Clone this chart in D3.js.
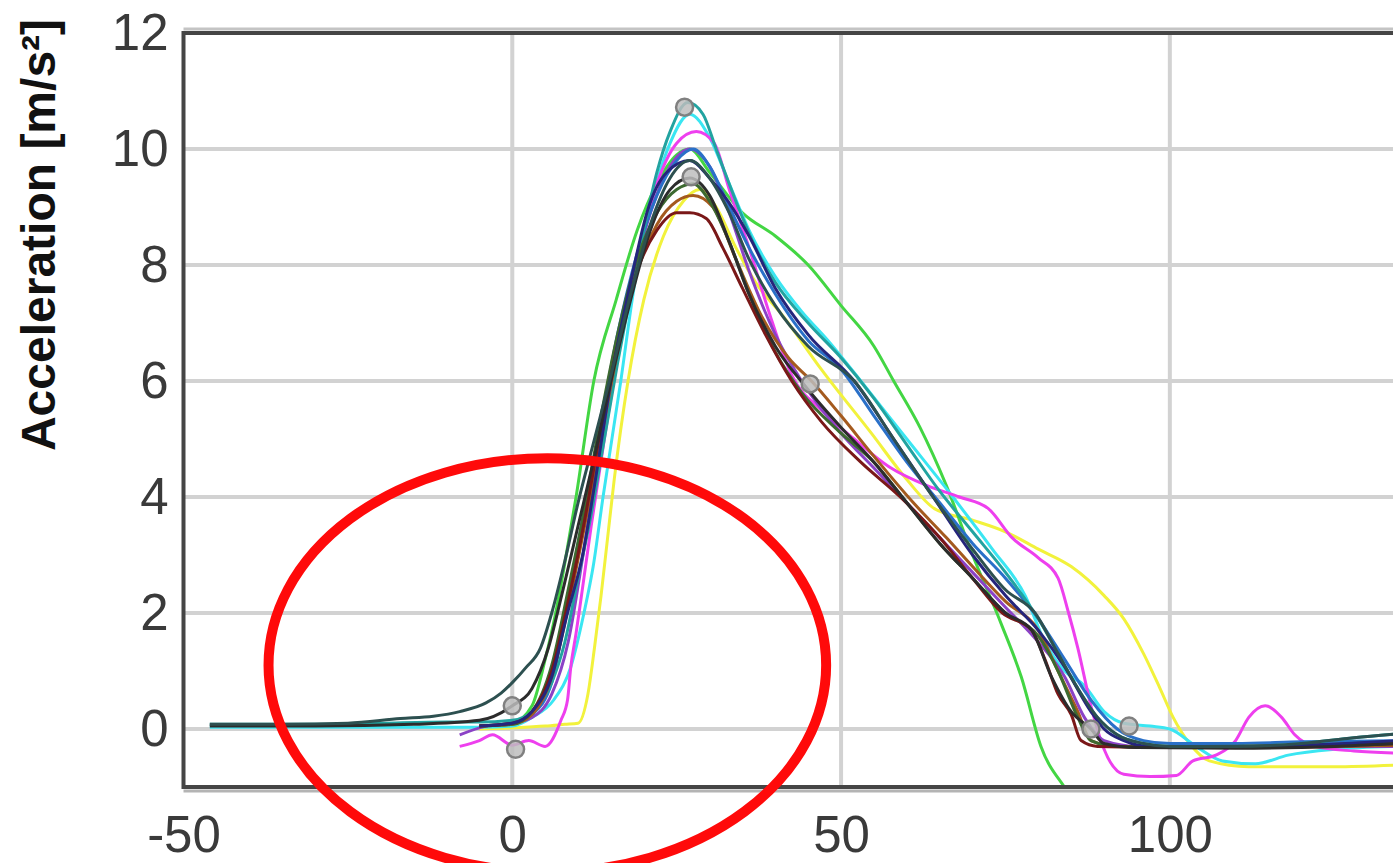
<!DOCTYPE html>
<html>
<head>
<meta charset="utf-8">
<script src="https://cdn.jsdelivr.net/npm/d3@7"></script>
<style>
  html, body { margin: 0; padding: 0; background: #ffffff; overflow: hidden; }
</style>
</head>
<body>
<div id="chart"></div>
<script>
// Tick values.
var xTicks = [-50, 0, 50, 100];
var yTicks = [0, 2, 4, 6, 8, 10, 12];
var yLabel = "Acceleration [m/s\u00B2]";

// One [time, acceleration] list for each trial.
var tealPts = [[-46,0.08],[-30,0.08],[-20,0.1],[-10,0.12],[-5,0.12],[0,0.15],[3,0.3],[6,0.8],[8,1.5],[10,2.6],[12,3.7],[14,5.0],[16,6.3],[18,7.5],[20,8.6],[22,9.6],[24,10.3],[26.7,10.8],[29,10.6],[31,10.0],[34,9.1],[37,8.3],[40,7.7],[45,7.0],[50,6.4],[55,5.7],[60,4.9],[65,4.1],[70,3.4],[75,2.7],[80,1.9],[83,1.3],[86,0.7],[89,0.2],[92,-0.1],[96,-0.25],[100,-0.3],[110,-0.3],[120,-0.25],[128,-0.15],[135,-0.08]];
var cyanPts = [[-46,0.03],[-30,0.03],[-20,0.03],[-10,0.03],[-5,0.03],[0,0.05],[3,0.2],[6.3,0.5],[8.9,1.07],[10.9,2.0],[12.3,2.8],[13.8,4.0],[16.5,6.0],[18.5,7.6],[21,9.0],[24,10.1],[27,10.6],[30,10.2],[33,9.4],[36,8.6],[40,7.8],[44,7.2],[48,6.7],[53,6.0],[60,5.0],[67,4.0],[73,3.1],[78,2.3],[81,1.5],[84,1.0],[87,0.75],[90,0.3],[93,0.1],[97,0.05],[100,0.0],[104,-0.3],[108,-0.55],[113,-0.6],[118,-0.45],[125,-0.35],[135,-0.3]];
var navyPts = [[-5,0.05],[0,0.1],[3,0.3],[6,0.9],[8.4,2.0],[10.7,3.0],[12.5,4.2],[15,6.0],[18,7.7],[20.6,8.95],[23.5,9.6],[27,9.8],[30,9.5],[32.8,9.1],[36,8.5],[40,7.6],[45,6.8],[52,6.0],[58,5.0],[64,4.0],[70,3.0],[75,2.3],[80,1.7],[84,1.07],[88,0.3],[90,0.0],[93,-0.2],[97,-0.3],[110,-0.3],[120,-0.28],[135,-0.2]];
var bluePts = [[-5,0.05],[0,0.1],[3,0.25],[6,0.8],[8.4,2.2],[10.5,3.5],[13,5.0],[16,6.8],[19,8.2],[22,9.2],[25,9.8],[27.5,10.0],[30,9.7],[33,9.0],[36,8.3],[40,7.5],[45,6.7],[50,6.2],[55,5.4],[60,4.6],[65,3.9],[70,3.2],[75,2.6],[80,1.9],[84,1.2],[88,0.5],[92,0.0],[96,-0.2],[100,-0.25],[110,-0.25],[120,-0.22],[135,-0.2]];
var magentaPts = [[-8,-0.3],[-5,-0.2],[-3,-0.1],[0,-0.28],[2.5,-0.2],[5,-0.3],[7.4,0.15],[8.4,0.5],[8.9,1.07],[9.7,1.65],[10.4,2.2],[12,3.5],[14,5.0],[16,6.4],[18,7.6],[20,8.6],[22,9.4],[25,10.1],[28,10.3],[30.7,10.1],[33,9.3],[36,8.3],[39,7.2],[42.5,6.1],[47,5.5],[52,5.0],[57.6,4.5],[63,4.2],[68,4.0],[72.4,3.8],[76,3.3],[80,2.95],[83,2.6],[84.6,2.0],[86,1.4],[88,0.4],[90,-0.35],[93,-0.78],[97,-0.82],[101,-0.8],[103.5,-0.55],[107,-0.45],[110,-0.2],[112,0.2],[114.5,0.4],[117,0.2],[119,-0.1],[122,-0.3],[128,-0.38],[135,-0.42]];
var purplePts = [[-8,-0.1],[-4,0.05],[0,0.1],[3,0.2],[6,0.6],[8.5,1.5],[10.9,3.1],[13,4.6],[15.5,6.2],[18,7.6],[21,8.9],[24,9.7],[27,10.0],[30,9.7],[33,8.9],[36,7.9],[40,6.8],[44,6.0],[50,5.1],[55,4.5],[60,3.9],[65,3.3],[70,2.7],[75,2.1],[80,1.5],[84,0.9],[87,0.2],[90,-0.2],[95,-0.3],[110,-0.32],[120,-0.3],[135,-0.3]];
var yellowPts = [[-5,0.0],[0,0.02],[5,0.05],[8,0.08],[10,0.1],[11.5,0.6],[12.5,1.4],[13.5,2.3],[14.5,3.3],[15.5,4.3],[17.6,6.0],[20,7.4],[23,8.5],[26,9.1],[28.5,9.3],[31,9.0],[34,8.3],[37,7.7],[41.3,7.1],[47,6.2],[54.6,5.1],[60,4.3],[64.2,3.8],[70,3.6],[75,3.4],[80,3.1],[85,2.8],[90,2.3],[93,1.9],[96,1.3],[98.5,0.7],[100.5,0.2],[103,-0.25],[106,-0.55],[112,-0.65],[125,-0.65],[135,-0.62]];
var greenPts = [[-5,0.05],[0,0.1],[3,0.4],[5,1.2],[6.6,2.0],[7.9,2.8],[9.7,4.0],[12.4,6.0],[15.8,7.4],[19,8.6],[22,9.4],[25,9.9],[27,10.0],[30,9.6],[35,8.9],[40,8.5],[45,8.0],[50,7.3],[55,6.6],[58,6.0],[62,5.2],[66,4.2],[70,3.0],[74.4,1.8],[77.4,0.9],[80.4,-0.3],[84.5,-1.1],[86,-1.4]];
var darkRedPts = [[-5,0.05],[0,0.1],[3,0.3],[6,1.0],[8.5,2.2],[11,3.6],[13.5,5.2],[16,6.6],[19,7.9],[22,8.6],[25,8.9],[27,8.9],[29.5,8.8],[32,8.3],[35,7.6],[38.5,6.8],[42.5,6.0],[47,5.3],[53,4.6],[59,4.0],[65,3.3],[70,2.6],[74.5,2.0],[79,1.7],[81,1.2],[83,0.6],[85,0.25],[86.5,-0.2],[89,-0.3],[100,-0.32],[115,-0.3],[135,-0.25]];
var darkGreenPts = [[-5,0.05],[0,0.08],[3,0.3],[6,1.1],[8.5,2.4],[11,3.8],[13.5,5.4],[16,6.8],[19,8.1],[22,8.9],[25,9.3],[27.5,9.4],[30,9.1],[33,8.4],[36,7.5],[40,6.5],[44,5.8],[50,5.1],[55,4.6],[60,3.9],[65,3.2],[70,2.6],[75,2.0],[80,1.6],[83,1.0],[86,0.2],[88,-0.2],[92,-0.3],[105,-0.3],[120,-0.28],[135,-0.22]];
var brownPts = [[-5,0.05],[0,0.08],[3,0.25],[6,0.9],[8.5,2.1],[11,3.5],[13.5,5.0],[16,6.5],[19,7.9],[22,8.7],[25,9.1],[27.5,9.2],[30.5,9.0],[34,8.1],[38,7.1],[42,6.4],[45.5,6.0],[50,5.4],[55,4.7],[61,3.9],[66,3.3],[70,2.8],[75,2.2],[80,1.7],[83,1.0],[86,0.3],[88,-0.2],[92,-0.3],[110,-0.32],[135,-0.28]];
var blackPts = [[-46,0.05],[-30,0.05],[-15,0.08],[-5,0.15],[0,0.4],[3,0.7],[5.5,1.4],[7.5,2.3],[10,3.5],[12.3,4.6],[15,6.0],[18,7.4],[21,8.6],[24,9.3],[27,9.5],[30,9.2],[33,8.4],[36,7.5],[40,6.6],[45,5.85],[50,5.2],[55,4.6],[60,3.9],[65,3.2],[70,2.6],[75,2.0],[79,1.7],[82,0.9],[85,0.3],[88,0.0],[90,-0.25],[95,-0.32],[110,-0.33],[125,-0.3],[135,-0.25]];
var darkSlatePts = [[-46,0.08],[-35,0.08],[-25,0.1],[-17,0.18],[-12,0.22],[-8,0.3],[-4,0.45],[-1.7,0.62],[0,0.8],[2,1.05],[4.3,1.4],[6,2.0],[8,2.9],[10,3.9],[12.5,5.0],[15,6.1],[18,7.5],[21,8.7],[24,9.5],[27,9.8],[30,9.5],[33,8.9],[36,8.1],[40,7.3],[45,6.6],[52,6.0],[58,5.0],[64,4.0],[70,3.1],[75,2.4],[79.5,2.0],[83,1.3],[86,0.7],[89,0.2],[92,-0.1],[96,-0.25],[100,-0.3],[110,-0.3],[120,-0.25],[128,-0.15],[135,-0.08]];

// Gray event markers on the curves.
var markerPts = [[0,0.4],[0.5,-0.35],[26.2,10.72],[27.2,9.52],[45.3,5.95],[88,0.0],[93.8,0.05]];

// Red ellipse drawn over the chart: centre, half width and half height in data units.
var ellipseCentre = [5.33, 1.1];
var ellipseRadii = [42.4, 3.57];

function createChart(divID) {

  // 0. Colours for each trial, drawn in this order.
  var trials = [
    {pts: yellowPts, color: "#f2f23c"},
    {pts: greenPts, color: "#43d643"},
    {pts: cyanPts, color: "#3ae6f2"},
    {pts: magentaPts, color: "#ee3fee"},
    {pts: purplePts, color: "#8b42c6"},
    {pts: bluePts, color: "#2a70c8"},
    {pts: tealPts, color: "#22a3a0"},
    {pts: brownPts, color: "#a45a1e"},
    {pts: darkGreenPts, color: "#3d6a30"},
    {pts: darkRedPts, color: "#7a1818"},
    {pts: navyPts, color: "#25257c"},
    {pts: blackPts, color: "#2c2c2c"},
    {pts: darkSlatePts, color: "#2d5050"}
  ];

  // 1. Sizes.
  var width = 1393;
  var height = 863;
  var left = 183.5, top = 33, right = 1400, bottom = 787;

  // 2. Scales.
  var xScale = d3.scaleLinear().domain([-50, 135]).range([left, right]);
  var yScale = d3.scaleLinear().domain([-1, 12]).range([bottom, top]);

  var svg = d3.select("#" + divID).append("svg")
    .attr("width", width)
    .attr("height", height);

  svg.append("clipPath").attr("id", "plotClip")
    .append("rect")
    .attr("x", left).attr("y", top)
    .attr("width", right - left).attr("height", bottom - top);

  // 3. Grid lines.
  var grid = svg.append("g");
  grid.selectAll(".vgrid").data(xTicks.filter(function (d) { return d > -50; }))
    .enter().append("line")
    .attr("x1", function (d) { return xScale(d); })
    .attr("x2", function (d) { return xScale(d); })
    .attr("y1", top).attr("y2", bottom)
    .attr("stroke", "#d2d2d2").attr("stroke-width", 4);
  grid.selectAll(".hgrid").data(yTicks.filter(function (d) { return d < 12; }))
    .enter().append("line")
    .attr("y1", function (d) { return yScale(d); })
    .attr("y2", function (d) { return yScale(d); })
    .attr("x1", left).attr("x2", right)
    .attr("stroke", "#d2d2d2").attr("stroke-width", 4);

  // 4. Curves.
  var line = d3.line()
    .x(function (d) { return xScale(d[0]); })
    .y(function (d) { return yScale(d[1]); })
    .curve(d3.curveMonotoneX);

  svg.append("g").attr("clip-path", "url(#plotClip)")
    .selectAll("path").data(trials)
    .enter().append("path")
    .attr("d", function (d) { return line(d.pts); })
    .attr("fill", "none")
    .attr("stroke", function (d) { return d.color; })
    .attr("stroke-width", 3)
    .attr("stroke-linejoin", "round");

  // 4.1 Markers.
  svg.append("g").attr("clip-path", "url(#plotClip)")
    .selectAll("circle").data(markerPts)
    .enter().append("circle")
    .attr("cx", function (d) { return xScale(d[0]); })
    .attr("cy", function (d) { return yScale(d[1]); })
    .attr("r", 8.5)
    .attr("fill", "#bdbdbd")
    .attr("fill-opacity", 0.85)
    .attr("stroke", "#808080")
    .attr("stroke-width", 2.5);

  // 5. Frame.
  svg.append("line")
    .attr("x1", left).attr("x2", right)
    .attr("y1", bottom + 4).attr("y2", bottom + 4)
    .attr("stroke", "#b4b4b4").attr("stroke-width", 3);
  svg.append("line")
    .attr("x1", left).attr("x2", right)
    .attr("y1", top - 4).attr("y2", top - 4)
    .attr("stroke", "#c4c4c4").attr("stroke-width", 3);
  svg.append("rect")
    .attr("x", left).attr("y", top)
    .attr("width", right - left).attr("height", bottom - top)
    .attr("fill", "none")
    .attr("stroke", "#454545")
    .attr("stroke-width", 4);

  // 6. Axes (labels only), plain hyphen for negatives.
  var plain = function (d) { return String(d); };
  var yAxis = d3.axisLeft(yScale).tickValues(yTicks).tickSize(0).tickPadding(15)
    .tickFormat(plain);
  var yg = svg.append("g")
    .attr("transform", "translate(" + left + ",0)")
    .call(yAxis);
  var xAxis = d3.axisBottom(xScale).tickValues(xTicks).tickSize(0).tickPadding(29)
    .tickFormat(plain);
  var xg = svg.append("g")
    .attr("transform", "translate(0," + bottom + ")")
    .call(xAxis);
  [yg, xg].forEach(function (g) {
    g.select(".domain").remove();
    g.selectAll("text")
      .attr("fill", "#3a3a3a")
      .style("font-family", "'Liberation Sans', Arial, sans-serif")
      .style("font-size", "51px");
  });

  // 6.1 Axis title.
  svg.append("text")
    .attr("transform", "translate(55,235)rotate(-90)")
    .attr("text-anchor", "middle")
    .attr("fill", "#111111")
    .style("font-family", "'Liberation Sans', Arial, sans-serif")
    .style("font-size", "48px")
    .style("font-weight", "bold")
    .text(yLabel);

  // 7. Red ellipse annotation.
  svg.append("ellipse")
    .attr("cx", xScale(ellipseCentre[0]))
    .attr("cy", yScale(ellipseCentre[1]))
    .attr("rx", xScale(ellipseCentre[0] + ellipseRadii[0]) - xScale(ellipseCentre[0]))
    .attr("ry", yScale(ellipseCentre[1] - ellipseRadii[1]) - yScale(ellipseCentre[1]))
    .attr("fill", "none")
    .attr("stroke", "#ff0a0a")
    .attr("stroke-width", 10);
}

createChart("chart");
</script>
</body>
</html>
